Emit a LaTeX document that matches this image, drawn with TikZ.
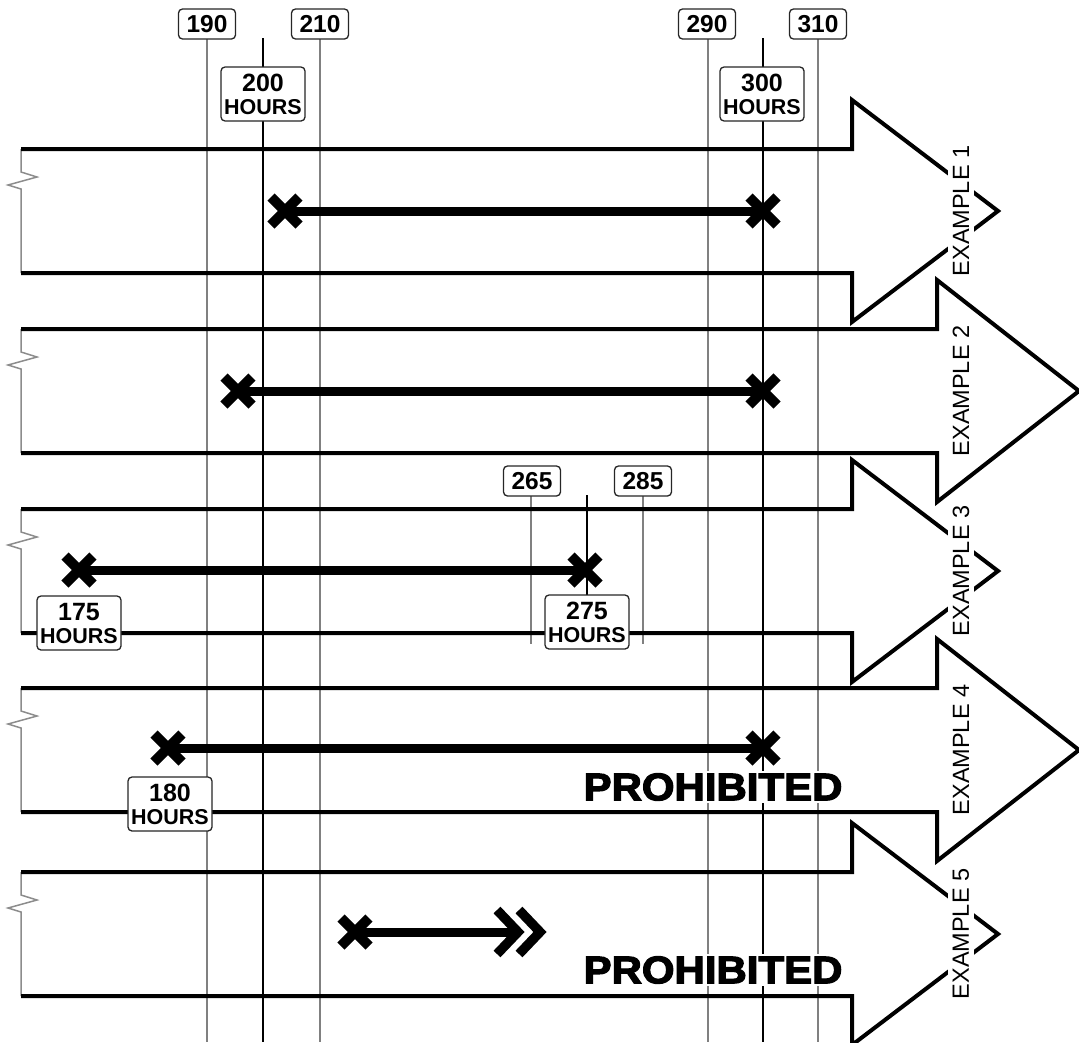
\documentclass[tikz,border=0pt]{standalone}
\usepackage{fontspec}
\setmainfont{Liberation Sans}
\newfontfamily\heavyfont{Liberation Sans}[BoldFeatures={FakeBold=3}]
\begin{document}
\begin{tikzpicture}[x=1pt,y=-1pt,
  band/.style={draw=black,line width=4pt,line join=miter},
  edgeline/.style={draw=black!45,line width=1.5pt},
  gline/.style={draw=black!50,line width=1.1pt},
  kline/.style={draw=black,line width=1.2pt},
  hbar/.style={draw=black,line width=9pt},
  chev/.style={draw=black,line width=9.5pt,line join=miter},
  numbox/.style={draw=black!85,line width=1.3pt,rounded corners=4pt,fill=white,
    minimum width=57pt,minimum height=30pt,inner sep=0pt,font=\fontsize{24.5}{26}\bfseries},
  hourbox/.style={draw=black!85,line width=1.3pt,rounded corners=4pt,fill=white,
    minimum width=84pt,minimum height=54pt,inner sep=0pt,align=center,
    font=\fontsize{21.5}{23}\bfseries},
  exlabel/.style={rotate=90,fill=white,inner sep=5pt,font=\fontsize{23.5}{26}\selectfont},
  prohib/.style={fill=white,inner sep=2pt,font=\fontsize{38.5}{40}\heavyfont\bfseries,xscale=1.09},
  xmark/.pic={\draw[line width=10pt] (-14,-14) -- (14,14) (-14,14) -- (14,-14);}
]
\useasboundingbox (0,0) rectangle (1079,1042);

% --- global vertical reference lines
\foreach \nm/\x/\st in {190/207/gline,210/320/gline,290/708/gline,310/818/gline,200/263/kline,300/763/kline}{
  \coordinate (vt\nm) at (\x,38);
  \coordinate (vb\nm) at (\x,1042);
  \draw[\st] (vt\nm) -- (vb\nm);
}
% --- example 3 local lines
\coordinate (vt265) at (531,496); \coordinate (vb265) at (531,644);
\coordinate (vt285) at (643,496); \coordinate (vb285) at (643,644);
\coordinate (vt275) at (587,495); \coordinate (vb275) at (587,622);
\draw[gline] (vt265) -- (vb265);
\draw[gline] (vt285) -- (vb285);
\draw[kline] (vt275) -- (vb275);

% --- bands with arrow heads
\foreach \c/\b/\t [count=\i] in {211/852/998,391/937/1079,571/852/998,750/937/1079,934/852/998}{
  \draw[edgeline] (21,\c-62) -- (21,\c-39) -- (37,\c-34) -- (8,\c-26) -- (21,\c-22) -- (21,\c+62);
  \draw[band] (21,\c-62) -- (\b,\c-62) -- (\b,\c-111) -- (\t,\c) -- (\b,\c+111) -- (\b,\c+62) -- (21,\c+62);
}

% --- example bars
\coordinate (a1) at (285,211); \coordinate (b1) at (763,211);
\coordinate (a2) at (238,391); \coordinate (b2) at (763,391);
\coordinate (a3) at (79,570);  \coordinate (b3) at (585,570);
\coordinate (a4) at (168,748); \coordinate (b4) at (763,748);
\foreach \i in {1,2,3,4}{
  \draw[hbar] (a\i) -- (b\i);
  \pic at (a\i) {xmark};
  \pic at (b\i) {xmark};
}
\coordinate (a5) at (355,932); \coordinate (e5) at (512,932);
\draw[hbar] (a5) -- (e5);
\pic at (a5) {xmark};
\coordinate (c5a) at (518,932); \coordinate (c5b) at (540,932);
\draw[chev] ([shift={(-21,-22)}]c5a) -- (c5a) -- ([shift={(-21,22)}]c5a);
\draw[chev] ([shift={(-21,-22)}]c5b) -- (c5b) -- ([shift={(-21,22)}]c5b);

% --- label boxes
\node[numbox] (n190) at (207,24) {190};
\node[numbox] (n210) at (320,24) {210};
\node[numbox] (n290) at (707,24) {290};
\node[numbox] (n310) at (818,24) {310};
\node[numbox] (n265) at (532,481) {265};
\node[numbox] (n285) at (643,481) {285};
\node[hourbox] (h200) at (263,94) {{\fontsize{25}{23}\bfseries 200}\\HOURS};
\node[hourbox] (h300) at (762,94) {{\fontsize{25}{23}\bfseries 300}\\HOURS};
\node[hourbox] (h275) at (587,622) {{\fontsize{25}{23}\bfseries 275}\\HOURS};
\node[hourbox] (h175) at (79,623) {{\fontsize{25}{23}\bfseries 175}\\HOURS};
\node[hourbox] (h180) at (170,804) {{\fontsize{25}{23}\bfseries 180}\\HOURS};

% --- example labels
\foreach \c [count=\i] in {211,391,571,750,934}{
  \node[exlabel] (ex\i) at (961,\c) {EXAMPLE \i};
}

% --- prohibited
\node[prohib] (p4) at (713,787) {PROHIBITED};
\node[prohib] (p5) at (713,970) {PROHIBITED};
\end{tikzpicture}
\end{document}
